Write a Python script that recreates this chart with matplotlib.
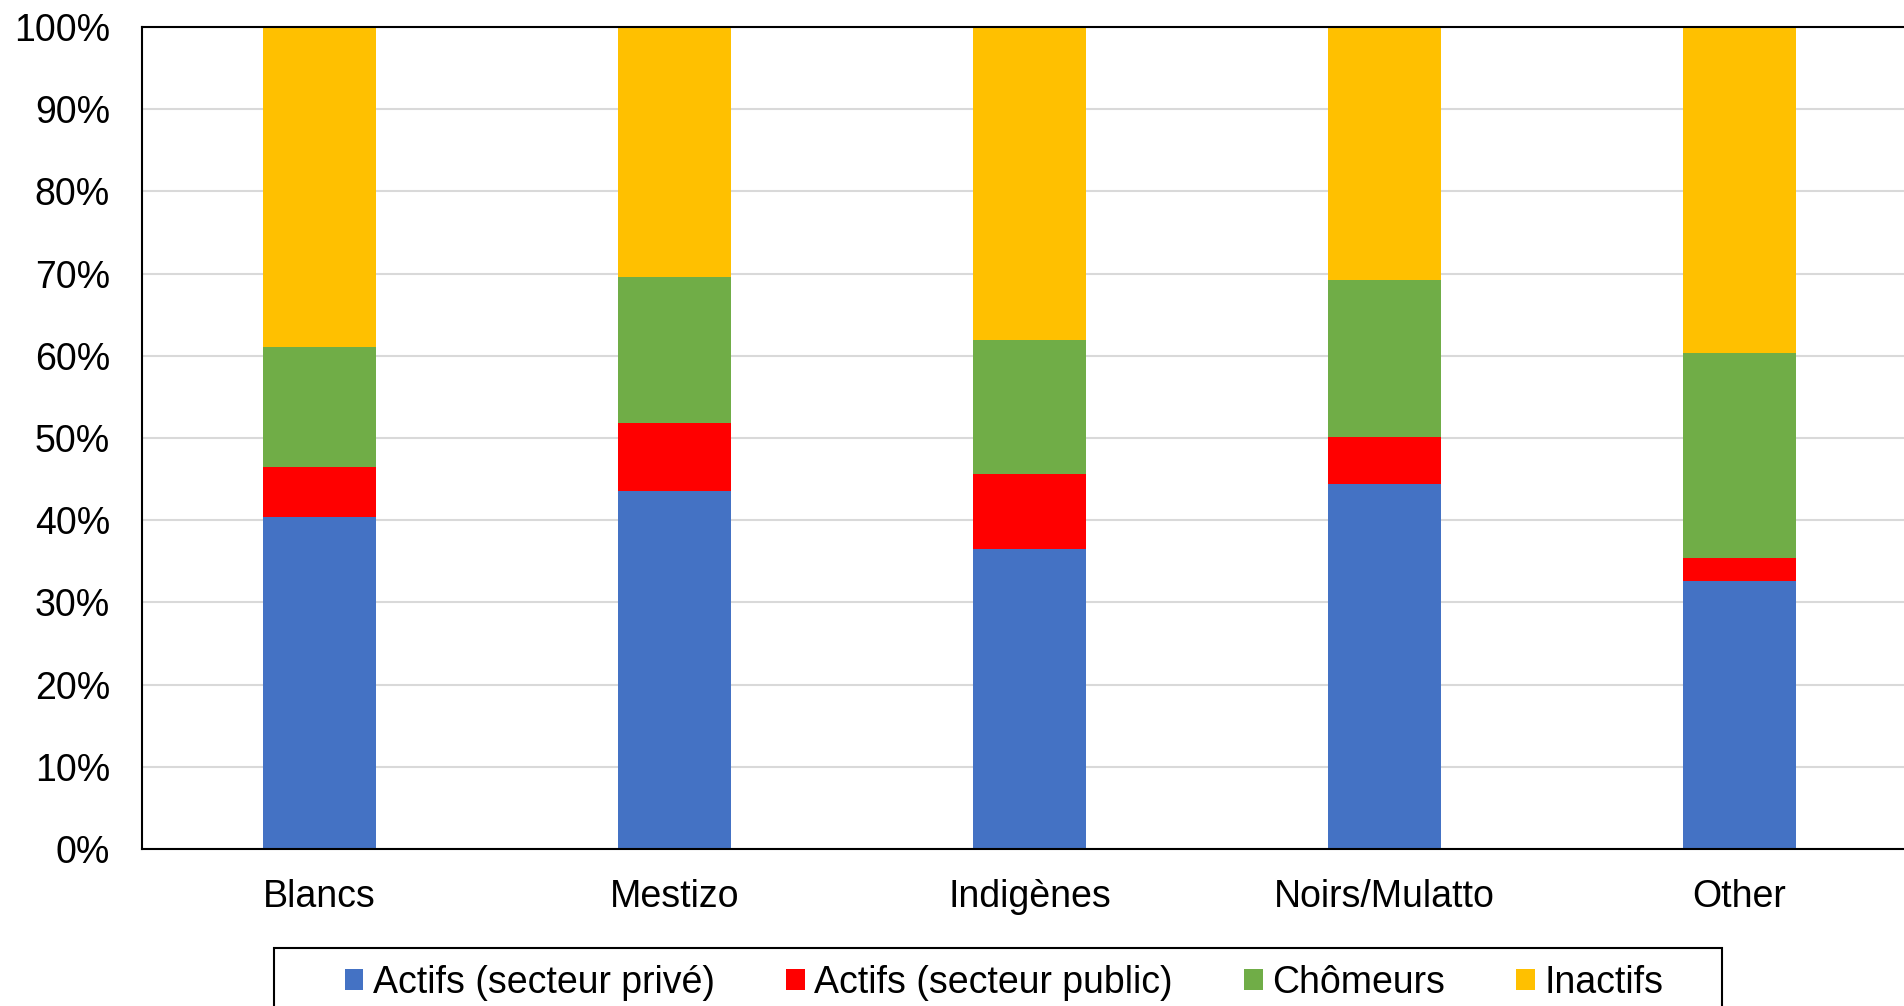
import matplotlib.pyplot as plt
import matplotlib.patches as mpatches
import numpy as np

plt.rcParams['font.family'] = ['Liberation Sans', 'DejaVu Sans']

categories = ["Blancs", "Mestizo", "Indigènes", "Noirs/Mulatto", "Other"]
series_names = ["Actifs (secteur privé)", "Actifs (secteur public)", "Chômeurs", "Inactifs"]

prive = [40.4, 43.6, 36.5, 44.4, 32.6]
public = [6.1, 8.2, 9.1, 5.7, 2.8]
chomeurs = [14.6, 17.8, 16.3, 19.1, 24.9]
inactifs = [38.9, 30.4, 38.1, 30.8, 39.7]

colors = ["#4472C4", "#FF0000", "#70AD47", "#FFC000"]

W, H = 1904, 1006
fig = plt.figure(figsize=(W / 100, H / 100), dpi=100)
ax = fig.add_axes([142 / W, 157 / H, 1775 / W, 822 / H])

x = np.arange(len(categories))
bottom = np.zeros(len(categories))
for vals, name, col in zip([prive, public, chomeurs, inactifs], series_names, colors):
    vals = np.array(vals)
    ax.bar(x, vals, 0.318, bottom=bottom, color=col, label=name, zorder=2)
    bottom += vals

ax.set_xlim(-0.5, len(categories) - 0.5)
ax.set_ylim(0, 100)
ax.set_yticks(range(0, 101, 10))
ax.set_yticklabels(["{}%".format(v) for v in range(0, 101, 10)])
ax.set_xticks(x)
ax.set_xticklabels(categories)
ax.tick_params(axis="y", length=0, pad=23, labelsize=27)
ax.tick_params(axis="x", length=0, pad=21.5, labelsize=27)
ax.yaxis.grid(True, color="#d9d9d9", linewidth=1.5, zorder=0)
ax.set_axisbelow(True)
for s in ["left", "bottom", "top"]:
    ax.spines[s].set_color("black")
    ax.spines[s].set_linewidth(1.5)
ax.spines["right"].set_visible(False)

# legend entries without frame, box drawn separately
leg = fig.legend(loc="center", bbox_to_anchor=(1004 / W, 1 - 983 / H), ncol=4,
                 fontsize=27, frameon=False,
                 handlelength=0.5, handleheight=0.5, handletextpad=0.25,
                 columnspacing=1.9, borderpad=0, borderaxespad=0)
box = mpatches.Rectangle((274 / W, -20 / H), (1722 - 274) / W, (1006 - 948 + 20) / H,
                         transform=fig.transFigure, fill=False, edgecolor="black",
                         linewidth=1.5, clip_on=False)
fig.add_artist(box)

fig.savefig("out.png", dpi=100)
